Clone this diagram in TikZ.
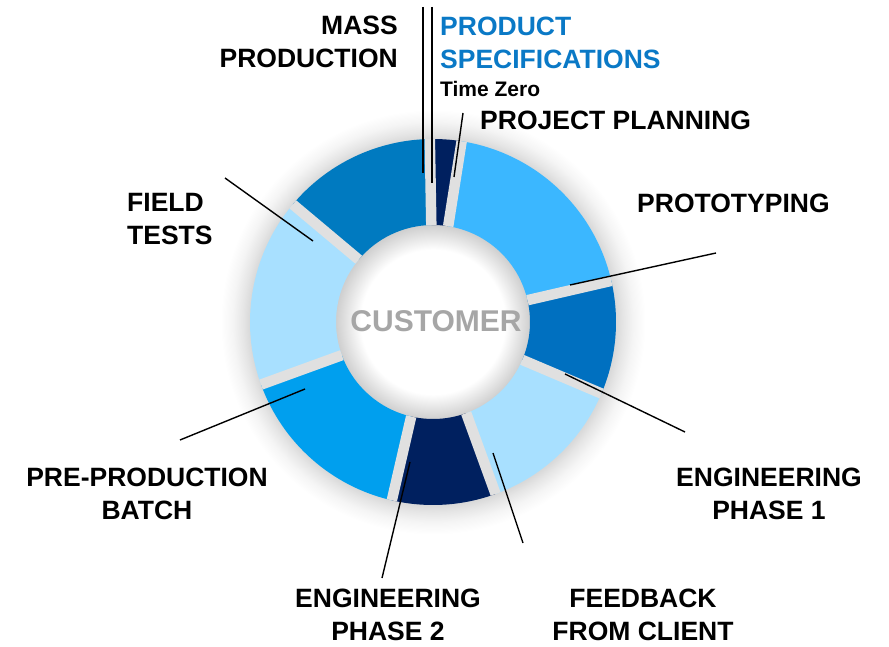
\documentclass[tikz,border=0pt]{standalone}
\usepackage{fontspec}
\setmainfont{Liberation Sans}
\usetikzlibrary{positioning}

\definecolor{navyblue}{HTML}{00205F}
\definecolor{protoblue}{HTML}{3BB7FF}
\definecolor{engblue}{HTML}{0070C0}
\definecolor{paleblue}{HTML}{A8E0FF}
\definecolor{brightblue}{HTML}{009FEE}
\definecolor{massblue}{HTML}{007AC0}
\definecolor{specblue}{HTML}{0A79C6}

% soft grey halo behind the ring, also shading the hole
% (25bp of the shading lands on the rim of the disc, 215pt)
\pgfdeclareradialshading{ringglow}{\pgfpoint{0bp}{0bp}}{color(0bp)=(white); color(8.4bp)=(white); color(11.3bp)=(black!19); color(16.3bp)=(black!14); color(21.3bp)=(black!15); color(22.1bp)=(black!10); color(23.3bp)=(black!4); color(24.7bp)=(white); color(50bp)=(white)}

\begin{document}
\begin{tikzpicture}[x=1pt,y=1pt,
    lead/.style={line width=1.4pt,black},
    gap/.style={line width=10.5pt,black!12},
    lbl/.style={inner sep=0pt,font=\fontsize{26.5}{33.5}\selectfont\bfseries},
    sublbl/.style={inner sep=0pt,font=\fontsize{21}{24}\selectfont\bfseries}]

    \useasboundingbox[fill=white] (0,0) rectangle (889,646);

    \coordinate (C) at (433,324);
    \shade[shading=ringglow] (C) circle[radius=215pt];

    % ring pieces
    \begin{scope}[shift={(C)}]
        \foreach \a/\b/\c in {91/81/navyblue, 81/13/protoblue, 13/-23/engblue,
                -23/-70/paleblue, -70/-103/navyblue, -103/-160/brightblue,
                -160/-220/paleblue, 140/91/massblue}
            \fill[\c] (\a:97pt) arc[start angle=\a, end angle=\b, radius=97pt]
                -- (\b:183pt) arc[start angle=\b, end angle=\a, radius=183pt] -- cycle;
        \foreach \a in {91,81,13,-23,-70,-103,-160,140}
            \draw[gap] (\a:97pt) -- (\a:183pt);
    \end{scope}

    \node[font=\fontsize{30}{30}\selectfont\bfseries, text=black!35, inner sep=0pt] (cust) at (436,325) {CUSTOMER};

    % labels
    \node[lbl, align=right, anchor=east] (mass) at (398,604) {MASS\\PRODUCTION};
    \node[lbl, align=left, anchor=west, text=specblue] (spec) at (440,603) {PRODUCT\\SPECIFICATIONS};
    \node[sublbl, below right=12pt and 0pt of spec.south west] (zero) {Time Zero};
    \node[lbl, anchor=west] (plan) at (480,526) {PROJECT PLANNING};
    \node[lbl, anchor=west] (proto) at (637,443) {PROTOTYPING};
    \node[lbl, align=left, anchor=west] (field) at (127,427) {FIELD\\TESTS};
    \node[lbl, align=center] (pre) at (147,152) {PRE-PRODUCTION\\BATCH};
    \node[lbl, align=center] (eng1) at (769,152) {ENGINEERING\\PHASE 1};
    \node[lbl, align=center] (eng2) at (388,31) {ENGINEERING\\PHASE 2};
    \node[lbl, align=center] (feed) at (643,31) {FEEDBACK\\FROM CLIENT};

    % leader lines
    \coordinate (mass a) at (423,639);   \coordinate (mass b) at (423,473);
    \coordinate (spec a) at (432,639);   \coordinate (spec b) at (432,463);
    \coordinate (plan a) at (463,533);   \coordinate (plan b) at (454,469);
    \coordinate (proto a) at (716,393);  \coordinate (proto b) at (570,361);
    \coordinate (eng1 a) at (685,214);   \coordinate (eng1 b) at (565,272);
    \coordinate (feed a) at (523,103);   \coordinate (feed b) at (493,193);
    \coordinate (eng2 a) at (382,68);    \coordinate (eng2 b) at (410,184);
    \coordinate (pre a) at (180,206);    \coordinate (pre b) at (305,257);
    \coordinate (field a) at (225,468);  \coordinate (field b) at (313,405);

    \foreach \n in {mass,spec,plan,proto,eng1,feed,eng2,pre,field}
        \draw[lead] (\n\space a) -- (\n\space b);

\end{tikzpicture}
\end{document}
